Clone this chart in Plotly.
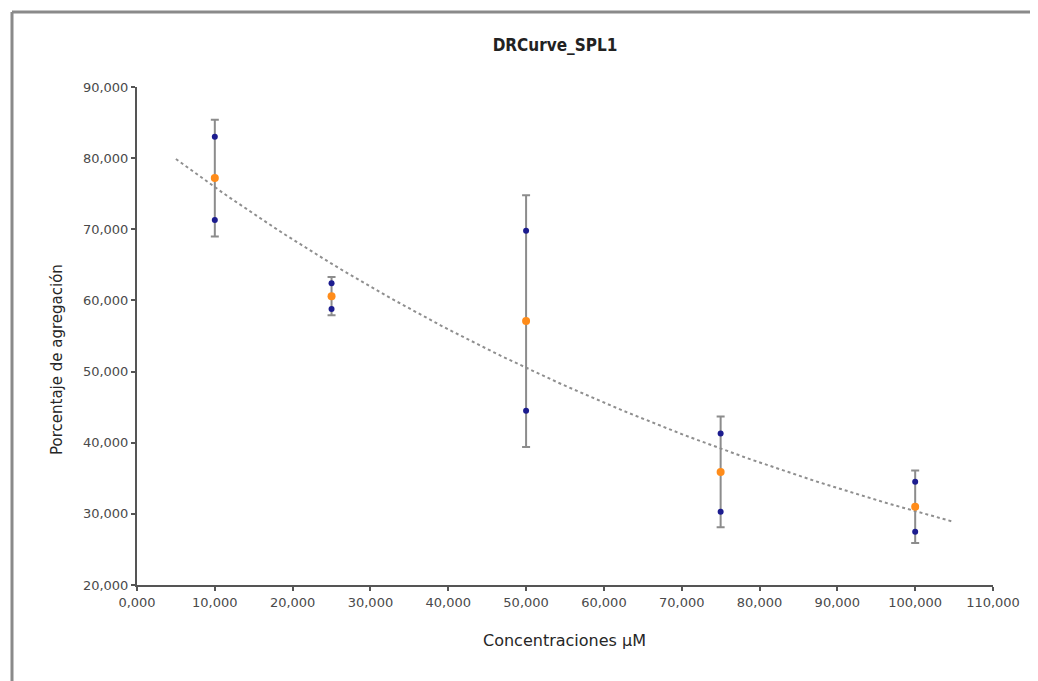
import numpy as np
import plotly.graph_objects as go

# ---- data ----
conc = [10, 25, 50, 75, 100]                     # Concentraciones µM
rep_high = [83.0, 62.4, 69.8, 41.3, 34.5]        # replicate 1 (% agregación)
rep_low = [71.3, 58.8, 44.5, 30.3, 27.5]         # replicate 2 (% agregación)
mean_vals = [77.2, 60.6, 57.1, 35.9, 31.0]       # mean (% agregación)
sd_vals = [8.2, 2.7, 17.7, 7.8, 5.1]             # error bars
trend_span = [5, 105]                            # trendline extent (forecast ±5)
x_ticks = [0, 10, 20, 30, 40, 50, 60, 70, 80, 90, 100, 110]
y_ticks = [20, 30, 40, 50, 60, 70, 80, 90]

title_text = "DRCurve_SPL1"
x_title = "Concentraciones µM"
y_title = "Porcentaje de agregación"

# exponential trendline fitted on the mean series
b, ln_a = np.polyfit(np.array(conc, dtype=float), np.log(np.array(mean_vals)), 1)
x_tr = np.linspace(trend_span[0], trend_span[1], 101)
y_tr = np.exp(ln_a + b * x_tr)

TICK_FONT = dict(family="DejaVu Sans, Arial, sans-serif", size=13, color="#4a4a4a")
AXIS_COLOR = "#555555"

# page offset (browser body margin) is 8 px
OFF = 8
PL, PR, PT, PB = 137, 993, 87, 585   # plot area in screen pixels
PW, PH = PR - PL, PB - PT

def px(xpix):
    return (xpix - PL) / PW

def py(ypix):
    return (PB - ypix) / PH

fig = go.Figure()

fig.add_trace(go.Scatter(
    x=x_tr, y=y_tr, mode="lines",
    line=dict(color="#8f8f8f", width=2, dash="dot"),
    hoverinfo="skip", showlegend=False,
))

fig.add_trace(go.Scatter(
    x=conc, y=mean_vals, mode="markers",
    marker=dict(color="#ff8c1a", size=8),
    error_y=dict(type="data", array=sd_vals, visible=True,
                 color="#8c8c8c", thickness=2, width=4),
    showlegend=False,
))

fig.add_trace(go.Scatter(
    x=conc + conc, y=rep_high + rep_low, mode="markers",
    marker=dict(color="#1c1c8f", size=6),
    showlegend=False,
))

W, H = 1038, 681
fig.update_layout(
    width=W, height=H,
    paper_bgcolor="white", plot_bgcolor="white",
    margin=dict(l=PL - OFF, r=W + OFF - PR, t=PT - OFF, b=H + OFF - PB),
    separators=",.",
    showlegend=False,
    title=dict(
        text="<b>" + title_text + "</b>",
        font=dict(family="Liberation Sans Narrow, Arial Narrow, DejaVu Sans Condensed, Arial, sans-serif",
                  size=17, color="#222222"),
        x=px(555), xref="paper", xanchor="center",
        y=1 - (45 - OFF) / H, yref="container", yanchor="middle",
    ),
    xaxis=dict(
        range=[0, 110], tickvals=x_ticks, tickformat=".3f",
        showgrid=False, zeroline=False,
        showline=True, linecolor=AXIS_COLOR, linewidth=2,
        ticks="outside", ticklen=4, tickwidth=2, tickcolor=AXIS_COLOR,
        tickfont=TICK_FONT,
    ),
    yaxis=dict(
        range=[20, 90], tickvals=y_ticks, tickformat=".3f",
        showgrid=False, zeroline=False,
        showline=True, linecolor=AXIS_COLOR, linewidth=2,
        ticks="outside", ticklen=4, tickwidth=2, tickcolor=AXIS_COLOR,
        tickfont=TICK_FONT,
    ),
    annotations=[
        dict(text=x_title, xref="paper", yref="paper",
             x=px(564), y=py(640),
             xanchor="center", yanchor="middle", showarrow=False,
             font=dict(family="DejaVu Sans, Arial, sans-serif", size=16, color="#262626")),
        dict(text=y_title, xref="paper", yref="paper",
             x=px(57), y=py(360), textangle=-90,
             xanchor="center", yanchor="middle", showarrow=False,
             font=dict(family="DejaVu Sans, Arial, sans-serif", size=15, color="#262626")),
    ],
    shapes=[
        dict(type="line", xref="paper", yref="paper",
             x0=px(12), x1=px(12), y0=py(700), y1=py(12),
             line=dict(color="#8a8a8a", width=3)),
        dict(type="line", xref="paper", yref="paper",
             x0=px(12), x1=px(1050), y0=py(12), y1=py(12),
             line=dict(color="#8a8a8a", width=3)),
    ],
)

fig.write_html("out.html")
